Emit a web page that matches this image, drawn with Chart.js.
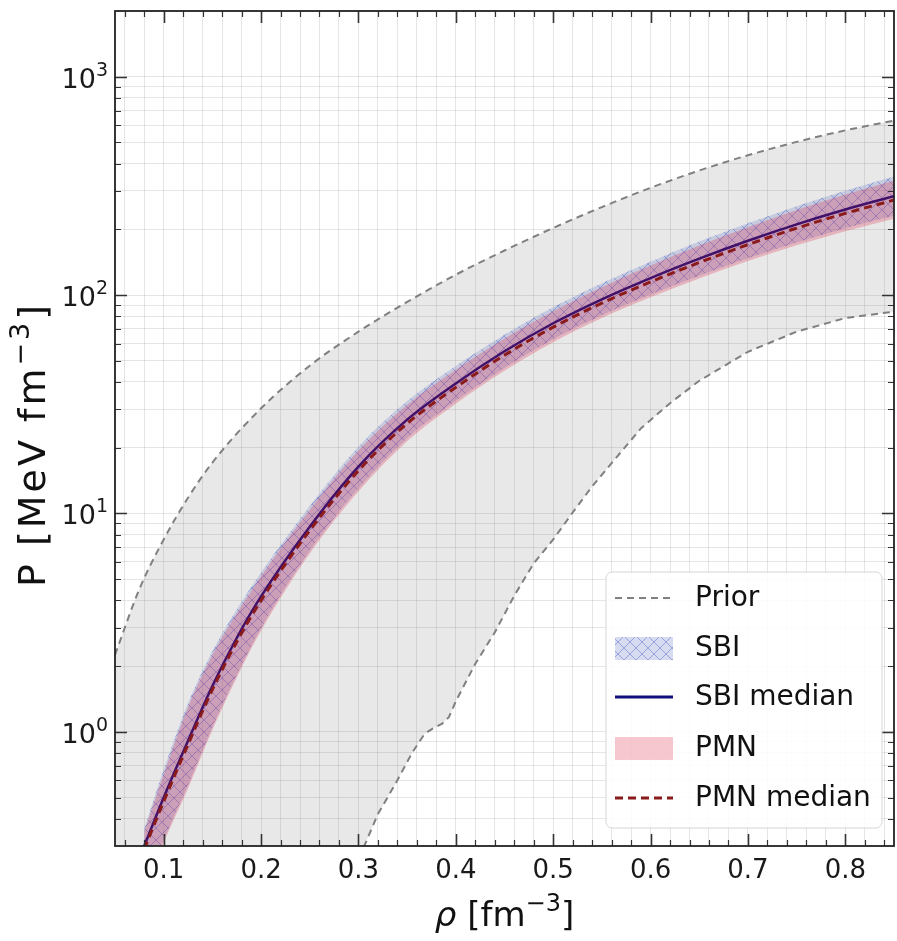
<!DOCTYPE html>
<html>
<head>
<meta charset="utf-8">
<title>EOS posterior</title>
<script src="https://cdn.jsdelivr.net/npm/chart.js@4.4.0/dist/chart.umd.min.js"></script>
<style>
  html, body { margin: 0; padding: 0; background: #fff; }
  #wrap { width: 897px; height: 941px; }
</style>
</head>
<body>
<div id="wrap"><canvas id="eos-chart" width="897" height="941"></canvas></div>
<script>
// density rho in fm^-3, pressure P in MeV fm^-3

// prior envelope
var priorUpX = [0.05, 0.075, 0.10, 0.125, 0.15, 0.20, 0.25, 0.30, 0.35, 0.40, 0.45, 0.50, 0.55, 0.60, 0.65, 0.70, 0.75, 0.80, 0.85];
var priorUpP = [2.25, 4.5, 7.6, 11.8, 17.1, 30.3, 47.5, 68, 93, 124, 160, 203, 253, 310, 372, 437, 503, 568, 630];
var priorLowX = [0.05, 0.29, 0.306, 0.32, 0.34, 0.355, 0.368, 0.377, 0.386, 0.393, 0.40, 0.42, 0.44, 0.46, 0.48, 0.50, 0.52, 0.54, 0.56, 0.59, 0.62, 0.65, 0.70, 0.75, 0.80, 0.85];
var priorLowP = [0.02, 0.2, 0.30, 0.42, 0.60, 0.80, 0.98, 1.04, 1.09, 1.17, 1.38, 2.05, 2.85, 4.2, 5.9, 7.6, 10.1, 13.3, 17, 24.5, 32, 40.5, 55, 68, 78.5, 84];

// posterior bands and medians
var postX = [0.08, 0.10, 0.125, 0.15, 0.175, 0.20, 0.25, 0.30, 0.35, 0.40, 0.45, 0.50, 0.55, 0.60, 0.65, 0.70, 0.75, 0.80, 0.85];
var sbiMedian = [0.30, 0.50, 0.91, 1.62, 2.69, 4.17, 8.7, 16.4, 26.9, 39.4, 55.3, 74.3, 95.7, 119.7, 146.9, 177.4, 210.9, 246.6, 283.8];
var sbiUpper = [0.36, 0.67, 1.35, 2.34, 3.63, 5.37, 10.8, 20.2, 32.7, 47.4, 65.9, 87.9, 113.2, 142.3, 175.8, 213.2, 255.4, 300.6, 349.1];
var sbiLower = [0.19, 0.32, 0.57, 1.05, 1.82, 2.99, 6.75, 13.0, 22.1, 32.8, 46.4, 62.8, 80.9, 100.7, 122.7, 147.6, 174.2, 202.3, 230.7];
var pmnMedian = [0.29, 0.48, 0.875, 1.56, 2.58, 4.0, 8.35, 15.7, 25.8, 37.8, 53.1, 71.3, 91.9, 114.9, 141, 170.3, 202.5, 236.7, 272.4];
var pmnUpper = [0.35, 0.64, 1.30, 2.25, 3.48, 5.16, 10.4, 19.4, 31.4, 45.5, 63.3, 84.4, 108.7, 136.6, 168.8, 204.7, 245.2, 288.6, 335.1];
var pmnLower = [0.18, 0.31, 0.55, 1.02, 1.77, 2.9, 6.55, 12.6, 21.4, 31.8, 45.0, 60.9, 78.5, 97.7, 119, 143.2, 169, 196.2, 223.8];

// axes
var xTickValues = [0.1, 0.2, 0.3, 0.4, 0.5, 0.6, 0.7, 0.8];
var xTickLabels = ['0.1', '0.2', '0.3', '0.4', '0.5', '0.6', '0.7', '0.8'];
var yTickValues = [1, 10, 100, 1000];
var yTickExponents = ['0', '1', '2', '3'];
var legendLabels = ['Prior', 'SBI', 'SBI median', 'PMN', 'PMN median'];

var FONT = "'DejaVu Sans', sans-serif";

function pts(xs, ys) {
    return xs.map(function (x, i) { return { x: x, y: ys[i] }; });
}

function isMajor(v, list) {
    return list.some(function (m) { return Math.abs(v - m) / m < 1e-6; });
}

// blue cross-hatch used for the SBI band
function makeHatch() {
    var c = document.createElement('canvas');
    c.width = 12; c.height = 12;
    var g = c.getContext('2d');
    g.fillStyle = 'rgba(110,130,205,0.28)';
    g.fillRect(0, 0, 12, 12);
    g.strokeStyle = 'rgba(60,85,195,0.42)';
    g.lineWidth = 1;
    g.beginPath();
    g.moveTo(0, 0); g.lineTo(12, 12);
    g.moveTo(12, 0); g.lineTo(0, 12);
    g.stroke();
    return g.createPattern(c, 'repeat');
}

// text pieces: [string, size, italic, raise]
function drawPieces(c, pieces, x, y) {
    pieces.forEach(function (p) {
        c.font = (p[2] ? 'italic ' : '') + p[1] + 'px ' + FONT;
        c.fillText(p[0], x, y - p[3]);
        x += c.measureText(p[0]).width;
    });
}
function piecesWidth(c, pieces) {
    var w = 0;
    pieces.forEach(function (p) {
        c.font = (p[2] ? 'italic ' : '') + p[1] + 'px ' + FONT;
        w += c.measureText(p[0]).width;
    });
    return w;
}

var ctx = document.getElementById('eos-chart').getContext('2d');
var hatch = makeHatch();
var priorFill = 'rgba(128,128,128,0.18)';
var pmnFill = 'rgba(220,20,60,0.24)';

// inward ticks on all four sides plus the frame
var frameTicks = {
    id: 'frameTicks',
    afterDatasetsDraw: function (chart) {
        var c = chart.ctx, a = chart.chartArea;
        var xs = chart.scales.x, ys = chart.scales.y;
        c.save();
        c.strokeStyle = '#333';
        xs.ticks.forEach(function (t) {
            var major = isMajor(t.value, xTickValues);
            var px = Math.round(xs.getPixelForValue(t.value)) + 0.5;
            var len = major ? 12 : 6;
            c.lineWidth = major ? 1.6 : 1.2;
            c.beginPath();
            c.moveTo(px, a.bottom); c.lineTo(px, a.bottom - len);
            c.moveTo(px, a.top); c.lineTo(px, a.top + len);
            c.stroke();
        });
        ys.ticks.forEach(function (t) {
            var major = isMajor(t.value, yTickValues);
            var py = Math.round(ys.getPixelForValue(t.value)) + 0.5;
            var len = major ? 12 : 6;
            c.lineWidth = major ? 1.6 : 1.2;
            c.beginPath();
            c.moveTo(a.left, py); c.lineTo(a.left + len, py);
            c.moveTo(a.right, py); c.lineTo(a.right - len, py);
            c.stroke();
        });
        c.lineWidth = 1.8;
        c.strokeStyle = '#222';
        c.strokeRect(a.left, a.top, a.right - a.left, a.bottom - a.top);
        c.restore();
    }
};

// power-of-ten tick labels, axis titles and the legend box
var annotations = {
    id: 'annotations',
    afterDraw: function (chart) {
        var c = chart.ctx, a = chart.chartArea, ys = chart.scales.y;
        c.save();
        c.fillStyle = '#1a1a1a';
        c.textBaseline = 'alphabetic';

        // y tick labels 10^n
        yTickValues.forEach(function (v, i) {
            var py = ys.getPixelForValue(v);
            var pieces = [['10', 27, false, 0], [yTickExponents[i], 19, false, 12]];
            var w = piecesWidth(c, pieces);
            drawPieces(c, pieces, a.left - 7 - w, py + 11);
        });

        // x title: italic rho then the unit
        c.fillStyle = '#111';
        var xt = [['ρ', 34, true, 0], [' [fm', 34, false, 0], ['−3', 24, false, 15], [']', 34, false, 0]];
        var xw = piecesWidth(c, xt);
        drawPieces(c, xt, (a.left + a.right) / 2 - xw / 2, 926);

        // y title
        c.translate(45, (a.top + a.bottom) / 2 + 16);
        c.rotate(-Math.PI / 2);
        c.letterSpacing = '3px';
        var yt = [['P [MeV fm', 38, false, 0], ['−3', 27, false, 16], [']', 38, false, 0]];
        var yw = piecesWidth(c, yt);
        drawPieces(c, yt, -yw / 2, 0);
        c.restore();

        // legend
        var bx = 606, by = 572, bw = 276, bh = 256;
        c.save();
        c.beginPath();
        c.roundRect(bx, by, bw, bh, 6);
        c.fillStyle = 'rgba(255,255,255,0.85)';
        c.fill();
        c.strokeStyle = '#d6d6d6';
        c.lineWidth = 1;
        c.stroke();

        var rows = [598, 648, 697, 748, 798];
        var hx0 = 615, hx1 = 673;
        c.lineCap = 'butt';
        // Prior
        c.strokeStyle = '#808080'; c.lineWidth = 2; c.setLineDash([7, 5]);
        c.beginPath(); c.moveTo(hx0, rows[0]); c.lineTo(hx1, rows[0]); c.stroke();
        // SBI
        c.setLineDash([]);
        c.fillStyle = hatch;
        c.fillRect(hx0, rows[1] - 11, hx1 - hx0, 23);
        // SBI median
        c.strokeStyle = '#10107a'; c.lineWidth = 3;
        c.beginPath(); c.moveTo(hx0, rows[2]); c.lineTo(hx1, rows[2]); c.stroke();
        // PMN
        c.fillStyle = pmnFill;
        c.fillRect(hx0, rows[3] - 11, hx1 - hx0, 23);
        // PMN median
        c.strokeStyle = '#8b1a1a'; c.lineWidth = 3; c.setLineDash([8, 5]);
        c.beginPath(); c.moveTo(hx0, rows[4]); c.lineTo(hx1, rows[4]); c.stroke();
        c.setLineDash([]);

        c.fillStyle = '#111';
        c.font = '28px ' + FONT;
        c.textBaseline = 'middle';
        legendLabels.forEach(function (lab, i) {
            c.fillText(lab, 695, rows[i] + 1);
        });
        c.restore();
    }
};

var lineBase = { pointRadius: 0, fill: false, cubicInterpolationMode: 'monotone' };

var myChart = new Chart(ctx, {
    type: 'line',
    data: {
        datasets: [
            Object.assign({}, lineBase, {
                label: 'Prior',
                data: pts(priorUpX, priorUpP),
                borderColor: '#808080', borderWidth: 2, borderDash: [7, 5],
                fill: { target: 1 }, backgroundColor: priorFill,
                order: 6
            }),
            Object.assign({}, lineBase, {
                label: 'Prior lower',
                data: pts(priorLowX, priorLowP),
                borderColor: '#808080', borderWidth: 2, borderDash: [7, 5],
                cubicInterpolationMode: 'default', tension: 0,
                order: 6
            }),
            Object.assign({}, lineBase, {
                label: 'SBI',
                data: pts(postX, sbiUpper),
                borderWidth: 0, borderColor: 'rgba(0,0,0,0)',
                fill: { target: 3 }, backgroundColor: hatch,
                order: 5
            }),
            Object.assign({}, lineBase, {
                label: 'SBI lower',
                data: pts(postX, sbiLower),
                borderWidth: 0, borderColor: 'rgba(0,0,0,0)',
                order: 5
            }),
            Object.assign({}, lineBase, {
                label: 'SBI median',
                data: pts(postX, sbiMedian),
                borderColor: '#10107a', borderWidth: 2.5,
                order: 4
            }),
            Object.assign({}, lineBase, {
                label: 'PMN',
                data: pts(postX, pmnUpper),
                borderWidth: 0, borderColor: 'rgba(0,0,0,0)',
                fill: { target: 6 }, backgroundColor: pmnFill,
                order: 3
            }),
            Object.assign({}, lineBase, {
                label: 'PMN lower',
                data: pts(postX, pmnLower),
                borderWidth: 0, borderColor: 'rgba(0,0,0,0)',
                order: 3
            }),
            Object.assign({}, lineBase, {
                label: 'PMN median',
                data: pts(postX, pmnMedian),
                borderColor: '#8b1a1a', borderWidth: 3, borderDash: [8, 5],
                order: 2
            })
        ]
    },
    options: {
        responsive: false,
        animation: false,
        layout: { padding: { top: 11, right: 3, left: 0, bottom: 0 } },
        plugins: {
            legend: { display: false },
            tooltip: { enabled: false }
        },
        scales: {
            x: {
                type: 'linear',
                min: 0.05,
                max: 0.85,
                afterBuildTicks: function (scale) {
                    var t = [];
                    for (var i = 3; i <= 42; i++) t.push({ value: i / 50 });
                    scale.ticks = t;
                },
                afterFit: function (scale) {
                    scale.height = 95;
                    scale.paddingLeft = 0;
                    scale.paddingRight = 0;
                },
                border: { display: false },
                grid: { color: 'rgba(0,0,0,0.1)', lineWidth: 1, drawTicks: false },
                ticks: {
                    autoSkip: false,
                    maxRotation: 0,
                    padding: 10,
                    color: '#1a1a1a',
                    font: { family: FONT, size: 26 },
                    callback: function (v) {
                        for (var i = 0; i < xTickValues.length; i++) {
                            if (Math.abs(v - xTickValues[i]) < 1e-6) return xTickLabels[i];
                        }
                        return '';
                    }
                }
            },
            y: {
                type: 'logarithmic',
                min: 0.3,
                max: 2000,
                afterBuildTicks: function (scale) {
                    var t = [];
                    for (var d = -1; d <= 3; d++) {
                        for (var m = 1; m <= 9; m++) {
                            var v = m * Math.pow(10, d);
                            if (v > 0.31 && v < 1990) t.push({ value: v });
                        }
                    }
                    scale.ticks = t;
                },
                afterFit: function (scale) {
                    scale.width = 115;
                    scale.paddingTop = 0;
                    scale.paddingBottom = 0;
                },
                border: { display: false },
                grid: { color: 'rgba(0,0,0,0.1)', lineWidth: 1, drawTicks: false },
                ticks: { display: false }
            }
        }
    },
    plugins: [frameTicks, annotations]
});
</script>
</body>
</html>
